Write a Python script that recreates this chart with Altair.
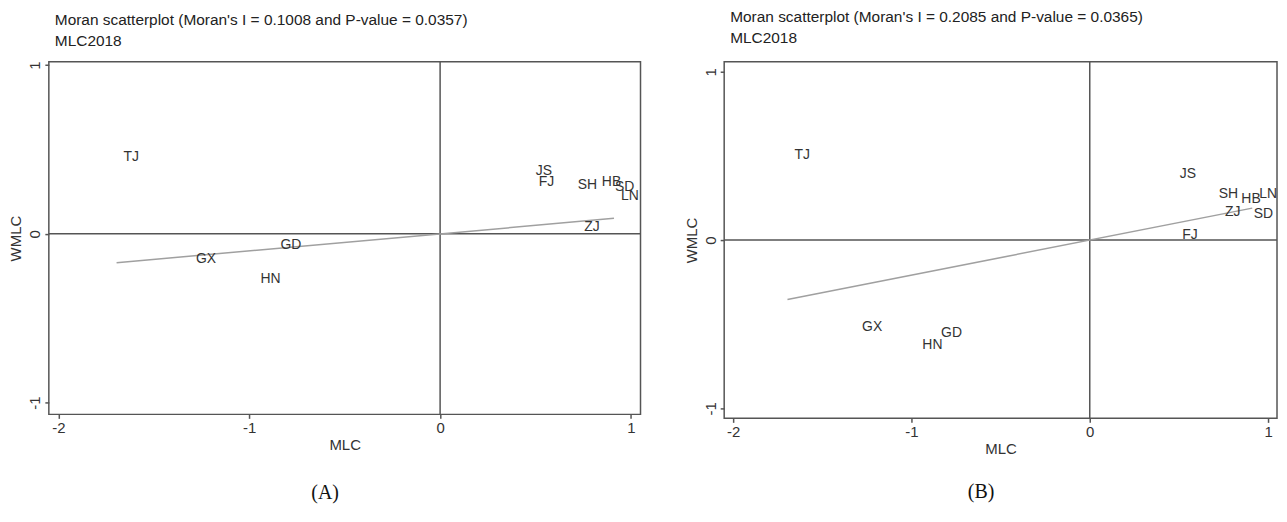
import altair as alt
import pandas as pd

# ---- data ----
regions = ["TJ", "JS", "FJ", "SH", "HB", "SD", "LN", "ZJ", "GD", "GX", "HN"]
mlc = [-1.695, 0.465, 0.480, 0.684, 0.811, 0.880, 0.911, 0.719, -0.873, -1.316, -0.978]
wmlc_a = [0.454, 0.374, 0.305, 0.287, 0.305, 0.276, 0.224, 0.040, -0.069, -0.149, -0.270]
wmlc_b = [0.506, 0.391, 0.029, 0.276, 0.247, 0.155, 0.276, 0.167, -0.552, -0.517, -0.626]
moran_i = [0.1008, 0.2085]
p_values = [0.0357, 0.0365]
panel_tags = ["(A)", "(B)"]
x_ticks = [-2, -1, 0, 1]
y_ticks = [-1, 0, 1]

SANS = "Liberation Sans"
TXT = "#333333"
FRAME = "#555555"


def panel(wmlc, I, p, tag, ydom, w, h, toff, tagoff):
    df = pd.DataFrame({"region": regions, "MLC": mlc, "WMLC": wmlc})
    xs = alt.Scale(domain=[-2.05, 1.05], nice=False, zero=False)
    ys = alt.Scale(domain=ydom, nice=False, zero=False)
    xax = alt.Axis(values=x_ticks, title="MLC", labelExpr="datum.value + ''")
    yax = alt.Axis(values=y_ticks, title="WMLC", labelExpr="datum.value + ''")
    X = alt.X("MLC:Q", scale=xs, axis=xax)
    Y = alt.Y("WMLC:Q", scale=ys, axis=yax)

    zero = pd.DataFrame({"MLC": [0], "WMLC": [0]})
    hrule = alt.Chart(zero).mark_rule(color=FRAME, strokeWidth=1.5).encode(y=Y)
    vrule = alt.Chart(zero).mark_rule(color=FRAME, strokeWidth=1.5).encode(x=X)

    lo, hi = min(mlc), max(mlc)
    fit_df = pd.DataFrame({"MLC": [lo, hi], "WMLC": [I * lo, I * hi]})
    fit = alt.Chart(fit_df).mark_line(color="#a0a0a0", strokeWidth=1.5).encode(x=X, y=Y)

    labels = alt.Chart(df).mark_text(
        align="left", baseline="middle", dx=7, fontSize=14, font=SANS, color=TXT
    ).encode(x=X, y=Y, text="region:N")

    layer = alt.layer(hrule, vrule, fit, labels).properties(
        width=w,
        height=h,
        title=alt.TitleParams(
            [f"Moran scatterplot (Moran's I = {I:.4f} and P-value = {p:.4f})", "MLC2018"],
            anchor="start",
            frame="group",
            font=SANS,
            fontSize=15.5,
            fontWeight="normal",
            color="#222222",
            lineHeight=21,
            offset=toff,
            dx=6,
        ),
    )
    return alt.vconcat(
        layer,
        title=alt.TitleParams(
            tag,
            orient="bottom",
            anchor="middle",
            frame="bounds",
            font="Liberation Serif",
            fontSize=20,
            fontWeight="normal",
            color="#111111",
            offset=tagoff,
        ),
    )


left = panel(wmlc_a, moran_i[0], p_values[0], panel_tags[0], [-1.07, 1.02], 594, 354, 12, 30)
right = panel(wmlc_b, moran_i[1], p_values[1], panel_tags[1], [-1.06, 1.06], 555, 358, 15, 25)

chart = (
    alt.hconcat(left, right, spacing=41)
    .properties(padding=0)
    .configure_view(stroke=FRAME, strokeWidth=1.5)
    .configure_axis(
        grid=False,
        domain=False,
        ticks=True,
        tickColor=FRAME,
        tickWidth=1.5,
        tickSize=4,
        labelFont=SANS,
        labelFontSize=15,
        labelColor=TXT,
        labelPadding=2,
        titleFont=SANS,
        titleFontSize=15,
        titleFontWeight="normal",
        titleColor=TXT,
    )
    .configure_axisX(titlePadding=2)
    .configure_axisY(labelAngle=270, labelAlign="center", labelBaseline="bottom", titlePadding=4)
)

chart.save("out.html", embed_options={"renderer": "svg", "actions": False})
